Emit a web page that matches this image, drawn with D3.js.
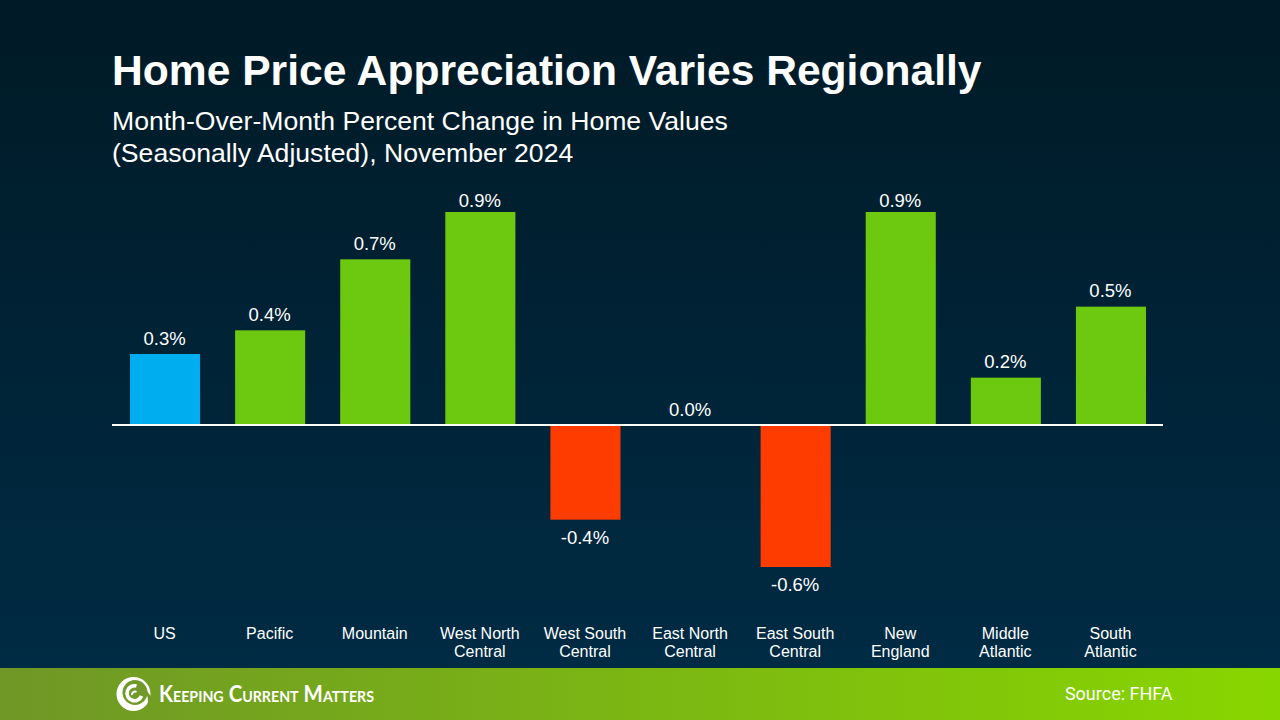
<!DOCTYPE html>
<html>
<head>
<meta charset="utf-8">
<style>
html, body { margin: 0; padding: 0; background: #001a26; }
svg { display: block; }
text { font-family: "Liberation Sans", Arial, sans-serif; fill: #fff; }
</style>
</head>
<body>
<svg id="chart"></svg>
<script src="https://cdn.jsdelivr.net/npm/d3@7"></script>
<script>
const categories = [
  ["US"], ["Pacific"], ["Mountain"], ["West North", "Central"], ["West South", "Central"],
  ["East North", "Central"], ["East South", "Central"], ["New", "England"], ["Middle", "Atlantic"], ["South", "Atlantic"]
];
const values = [0.3, 0.4, 0.7, 0.9, -0.4, 0.0, -0.6, 0.9, 0.2, 0.5];
const valueLabels = ["0.3%", "0.4%", "0.7%", "0.9%", "-0.4%", "0.0%", "-0.6%", "0.9%", "0.2%", "0.5%"];
const title = "Home Price Appreciation Varies Regionally";
const subtitle = ["Month-Over-Month Percent Change in Home Values", "(Seasonally Adjusted), November 2024"];
const source = "Source: FHFA";

const width = 1280, height = 720, footerTop = 668;

const svg = d3.select("#chart").attr("width", width).attr("height", height);
const defs = svg.append("defs");

const bg = defs.append("linearGradient").attr("id", "bg").attr("x1", 0).attr("y1", 0).attr("x2", 0).attr("y2", 1);
bg.append("stop").attr("offset", 0).attr("stop-color", "#001a26");
bg.append("stop").attr("offset", 1).attr("stop-color", "#002b44");

const foot = defs.append("linearGradient").attr("id", "foot");
foot.append("stop").attr("offset", 0).attr("stop-color", "#6f9726");
foot.append("stop").attr("offset", 1).attr("stop-color", "#88d600");

svg.append("rect").attr("width", width).attr("height", footerTop).attr("fill", "url(#bg)");
svg.append("rect").attr("y", footerTop).attr("width", width).attr("height", height - footerTop).attr("fill", "url(#foot)");

// headings
svg.append("text").attr("x", 112).attr("y", 85).attr("font-size", 42.6).attr("font-weight", 700).text(title);
svg.selectAll(".sub").data(subtitle).enter().append("text")
  .attr("class", "sub")
  .attr("x", 112)
  .attr("y", (d, i) => 130 + i * 32)
  .attr("font-size", 26.6)
  .text(d => d);

// scales
const x = d3.scaleBand().domain(d3.range(categories.length)).range([112.5, 1163.5]).paddingInner(1 / 3).paddingOuter(1 / 6);
const y = d3.scaleLinear().domain([0, 0.9]).range([425, 212]);
const labelX = i => x(i) + x.bandwidth() / 2 - 0.5;

const colorOf = (d, i) => i === 0 ? "#00aeef" : d < 0 ? "#ff3c00" : "#6cc90f";

svg.selectAll(".bar").data(values).enter().append("rect")
  .attr("class", "bar")
  .attr("x", (d, i) => x(i))
  .attr("width", x.bandwidth())
  .attr("y", d => Math.min(y(d), y(0)))
  .attr("height", d => Math.abs(y(d) - y(0)))
  .attr("fill", colorOf);

// zero line
svg.append("line")
  .attr("x1", 112).attr("x2", 1163)
  .attr("y1", y(0)).attr("y2", y(0))
  .attr("stroke", "#fff").attr("stroke-width", 2);

// value labels, the tallest ones sit closer to their bar
svg.selectAll(".val").data(values).enter().append("text")
  .attr("class", "val")
  .attr("x", (d, i) => labelX(i))
  .attr("y", d => d < 0 ? y(d) + 24 : Math.max(y(d) - 9.5, 207))
  .attr("text-anchor", "middle")
  .attr("font-size", 18.5)
  .text((d, i) => valueLabels[i]);

// category labels
const cat = svg.selectAll(".cat").data(categories).enter().append("text")
  .attr("class", "cat")
  .attr("text-anchor", "middle")
  .attr("font-size", 16);
cat.selectAll("tspan").data((d, i) => d.map(s => ({ s, i }))).enter().append("tspan")
  .attr("x", d => labelX(d.i))
  .attr("y", (d, j) => 639 + j * 18)
  .text(d => d.s);

// footer logo, a rough swirl
const logo = svg.append("g").attr("transform", "translate(133.5,694)");
logo.append("circle").attr("r", 17).attr("fill", "#fff");
logo.append("circle").attr("cx", 1.5).attr("cy", -1.5).attr("r", 12.5).attr("fill", "#70992a");
logo.append("path").attr("fill", "#70992a")
  .attr("d", "M11,-6 L18,3 L13,13 A16,16 0 0 0 13,0 Z");
logo.append("path").attr("fill", "none").attr("stroke", "#fff").attr("stroke-width", 3.6)
  .attr("d", "M8,2 A7.5,7.5 0 1 1 3,-8");
logo.append("path").attr("fill", "none").attr("stroke", "#fff").attr("stroke-width", 2)
  .attr("d", "M3,-2 A3,3 0 0 0 -1.5,1");

svg.append("text")
  .attr("x", 159).attr("y", 702)
  .style("font-family", "Lato, sans-serif")
  .style("font-variant", "small-caps")
  .attr("font-size", 23)
  .attr("font-weight", 700)
  .attr("textLength", 215)
  .attr("lengthAdjust", "spacingAndGlyphs")
  .text("Keeping Current Matters");

svg.append("text")
  .attr("x", 1172.5).attr("y", 700)
  .attr("text-anchor", "end")
  .style("font-family", "Roboto, sans-serif")
  .attr("font-size", 18)
  .text(source);
</script>
</body>
</html>
